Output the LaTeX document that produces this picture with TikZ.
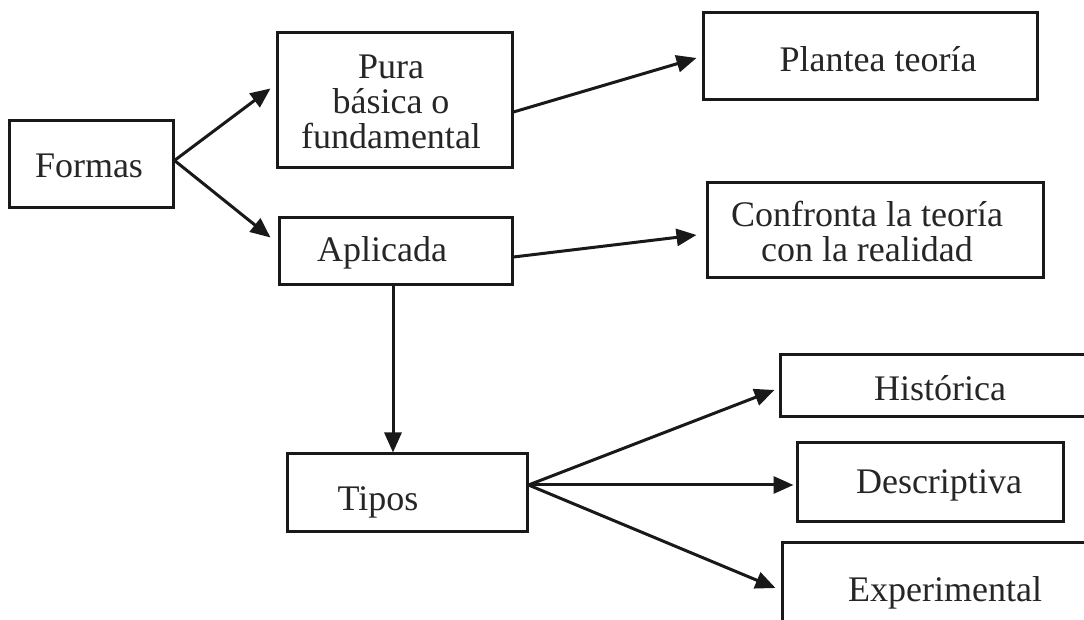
\documentclass[tikz,border=0pt]{standalone}
\usepackage{fontspec}
\setmainfont{Liberation Serif}
\usetikzlibrary{arrows.meta,calc}
\begin{document}
\begin{tikzpicture}[x=0.5pt,y=-0.5pt,
  box/.style={draw=black!90, line width=1.5pt, inner sep=0pt, minimum width=#1},
  lbl/.style={inner sep=0pt, align=center, text=black!85, font=\fontsize{18}{17.5}\selectfont},
  conn/.style={line width=1.5pt, draw=black!90, -{Triangle[length=10pt,width=8.5pt]}}]
\clip (0,0) rectangle (1084,620);
\fill[white] (0,0) rectangle (1084,620);
% boxes
\node[box=82pt, minimum height=43.5pt] (formas) at (91,164.5) {};
\node[box=117.5pt, minimum height=67.5pt] (pura) at (394.5,100.5) {};
\node[box=167pt, minimum height=43.5pt] (plantea) at (870,56.5) {};
\node[box=116.5pt, minimum height=33.5pt] (aplicada) at (395.5,251.5) {};
\node[box=168pt, minimum height=47.5pt] (confronta) at (875,230.5) {};
\node[box=120pt, minimum height=39pt] (tipos) at (407,493) {};
\node[box=160pt, minimum height=31pt] (historica) at (940,386) {};
\node[box=133pt, minimum height=39.5pt] (descriptiva) at (930,482.5) {};
\node[box=159pt, minimum height=48.5pt] (experimental) at (941,591.5) {};
% texts
\node[lbl] (tformas) at (89,166) {Formas};
\node[lbl] (tpura) at (391,102) {Pura\\básica o\\fundamental};
\node[lbl] (tplantea) at (878,59) {Plantea teoría};
\node[lbl] (taplicada) at (382,253) {Aplicada};
\node[lbl] (tconfronta) at (867,232) {Confronta la teoría\\con la realidad};
\node[lbl] (ttipos) at (378,502) {Tipos};
\node[lbl] (thistorica) at (940,388) {Histórica};
\node[lbl] (tdescriptiva) at (939,485) {Descriptiva};
\node[lbl] (texperimental) at (945,593) {Experimental};
% connectors
\draw[conn] ($(formas.east)+(0,-4)$) -- ($(pura.west)+(-5,-12)$);
\draw[conn] ($(formas.east)+(0,-4)$) -- ($(aplicada.west)+(-7,-14)$);
\draw[conn] ($(pura.east)+(0,11.5)$) -- ($(plantea.west)+(-5,1.5)$);
\draw[conn] ($(aplicada.east)+(0,5.5)$) -- ($(confronta.west)+(-9,4.5)$);
\draw[conn] ($(aplicada.south)+(-2.5,0)$) -- ($(tipos.north)+(-14,0)$);
\draw[conn] ($(tipos.east)+(0,-8)$) -- ($(historica.west)+(-4,4)$);
\draw[conn] ($(tipos.east)+(0,-8)$) -- ($(descriptiva.west)+(-2,2.5)$);
\draw[conn] ($(tipos.east)+(0,-8)$) -- ($(experimental.west)+(-5,-3.5)$);
\end{tikzpicture}
\end{document}
